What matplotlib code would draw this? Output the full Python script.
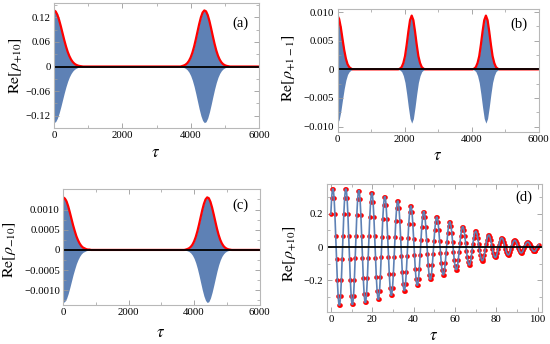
import numpy as np
import matplotlib
matplotlib.use("Agg")
import matplotlib.pyplot as plt
from matplotlib.ticker import MultipleLocator

plt.rcParams['font.family'] = ['Liberation Serif', 'DejaVu Serif']
plt.rcParams['mathtext.fontset'] = 'stix'

# ---------------- data ----------------
# (a) envelope of Re[rho_{+10}]
a_tau = [0, 50, 100, 150, 200, 250, 300, 350, 400, 450, 500, 550, 600, 650, 700, 750, 800, 850,
         3700, 3750, 3800, 3850, 3900, 3950, 4000, 4050, 4100, 4150, 4200, 4250, 4300, 4350, 4400,
         4450, 4500, 4550, 4600, 4650, 4700, 4750, 4800, 4850, 4900, 4950, 5000, 5050, 5100, 5150, 6000]
a_env = [0.137, 0.1342, 0.1261, 0.1136, 0.0982, 0.0814, 0.0647, 0.0494, 0.0361, 0.0254, 0.0171,
         0.0110, 0.0068, 0.0041, 0.0023, 0.0013, 0.0007, 0.0,
         0.0, 0.0012, 0.0025, 0.0046, 0.0082, 0.0139, 0.0222, 0.0337, 0.0484, 0.0660, 0.0850,
         0.1039, 0.1202, 0.1318, 0.1369, 0.1347, 0.1255, 0.1108, 0.0927, 0.0735, 0.0552, 0.0392,
         0.0264, 0.0169, 0.0102, 0.0058, 0.0032, 0.0016, 0.0008, 0.0, 0.0]

# (b) envelope of Re[rho_{+1-1}]
b_tau = [0, 50, 100, 150, 200, 250, 300, 350, 400, 450,
         1815, 1865, 1915, 1965, 2015, 2065, 2115, 2165, 2215, 2265, 2315, 2365, 2415, 2465, 2515, 2565, 2615,
         4030, 4080, 4130, 4180, 4230, 4280, 4330, 4380, 4430, 4480, 4530, 4580, 4630, 4680, 4730, 4780, 4830,
         6000]
b_env = [0.0094, 0.0088, 0.0073, 0.0053, 0.0034, 0.0019, 0.0009, 0.0004, 0.00016, 0.0,
         0.0, 0.00013, 0.0004, 0.0011, 0.0023, 0.0043, 0.0066, 0.0086, 0.0094, 0.0086, 0.0066, 0.0043,
         0.0023, 0.0011, 0.0004, 0.00013, 0.0,
         0.0, 0.00013, 0.0004, 0.0011, 0.0023, 0.0043, 0.0066, 0.0086, 0.0094, 0.0086, 0.0066, 0.0043,
         0.0023, 0.0011, 0.0004, 0.00013, 0.0,
         0.0]

# (c) envelope of Re[rho_{-10}]
c_tau = a_tau
c_env = [0.0013, 0.00127, 0.0012, 0.00108, 0.00093, 0.00077, 0.00061, 0.00047, 0.00034, 0.00024,
         0.00016, 0.00010, 0.00006, 0.00004, 0.00002, 0.00001, 0.00001, 0.0,
         0.0, 0.000011, 0.000024, 0.000044, 0.000078, 0.000132, 0.000211, 0.00032, 0.00046, 0.000626,
         0.000807, 0.000986, 0.00114, 0.00125, 0.0013, 0.00128, 0.00119, 0.00105, 0.00088, 0.0007,
         0.000524, 0.000372, 0.00025, 0.00016, 0.000097, 0.000055, 0.00003, 0.000015, 0.000008, 0.0, 0.0]

# (d) sampled Re[rho_{+10}] for short times
d_step = 0.3927
d_val = [
    0.197, 0.295, 0.348, 0.348, 0.295, 0.197, 0.069, -0.069, -0.197, -0.295, -0.348, -0.348, -0.295, -0.197, -0.069, 0.069,
    0.197, 0.294, 0.347, 0.347, 0.294, 0.197, 0.069, -0.069, -0.195, -0.292, -0.344, -0.344, -0.292, -0.195, -0.068, 0.068,
    0.192, 0.287, 0.338, 0.338, 0.287, 0.192, 0.067, -0.067, -0.188, -0.281, -0.332, -0.332, -0.281, -0.188, -0.066, 0.066,
    0.183, 0.273, 0.323, 0.323, 0.273, 0.183, 0.064, -0.064, -0.177, -0.265, -0.313, -0.313, -0.265, -0.177, -0.062, 0.062,
    0.171, 0.255, 0.301, 0.301, 0.255, 0.171, 0.060, -0.060, -0.164, -0.245, -0.289, -0.289, -0.245, -0.164, -0.058, 0.058,
    0.156, 0.233, 0.275, 0.275, 0.233, 0.156, 0.055, -0.055, -0.148, -0.221, -0.261, -0.261, -0.221, -0.148, -0.052, 0.052,
    0.139, 0.208, 0.245, 0.245, 0.208, 0.139, 0.049, -0.049, -0.130, -0.194, -0.229, -0.229, -0.194, -0.130, -0.045, 0.045,
    0.120, 0.179, 0.212, 0.212, 0.179, 0.120, 0.042, -0.042, -0.110, -0.165, -0.194, -0.194, -0.165, -0.110, -0.039, 0.039,
    0.101, 0.151, 0.179, 0.179, 0.151, 0.101, 0.035, -0.035, -0.094, -0.140, -0.166, -0.166, -0.140, -0.094, -0.033, 0.033,
    0.085, 0.127, 0.150, 0.150, 0.127, 0.085, 0.030, -0.030, -0.077, -0.115, -0.135, -0.135, -0.115, -0.077, -0.027, 0.027,
    0.068, 0.102, 0.121, 0.121, 0.102, 0.068, 0.024, -0.024, -0.061, -0.091, -0.107, -0.107, -0.091, -0.061, -0.021, 0.021,
    0.053, 0.080, 0.094, 0.094, 0.080, 0.053, 0.019, -0.019, -0.046, -0.069, -0.081, -0.081, -0.069, -0.046, -0.016, 0.016,
    0.040, 0.060, 0.071, 0.071, 0.060, 0.040, 0.014, -0.014, -0.035, -0.052, -0.062, -0.062, -0.052, -0.035, -0.012, 0.012,
    0.031, 0.046, 0.054, 0.054, 0.046, 0.031, 0.011, -0.011, -0.027, -0.040, -0.047, -0.047, -0.040, -0.027, -0.009, 0.009,
    0.023, 0.034, 0.040, 0.040, 0.034, 0.023, 0.008, -0.008, -0.020, -0.030, -0.035, -0.035, -0.030, -0.020, -0.007, 0.007,
    0.017, 0.025, 0.029, 0.029, 0.025, 0.017, 0.006, -0.006, -0.014, -0.022, -0.026, -0.026, -0.022, -0.014, -0.005, 0.005,
    0.013,
]
d_tau = np.arange(len(d_val)) * d_step

xticks_long = [0, 2000, 4000, 6000]
xticks_d = [0, 20, 40, 60, 80, 100]
yticks_a = [-0.12, -0.06, 0, 0.06, 0.12]
ylabels_a = ['\u22120.12', '\u22120.06', '0', '0.06', '0.12']
yticks_b = [-0.010, -0.005, 0, 0.005, 0.010]
ylabels_b = ['\u22120.010', '\u22120.005', '0', '0.005', '0.010']
yticks_c = [-0.0010, -0.0005, 0, 0.0005, 0.0010]
ylabels_c = ['\u22120.0010', '\u22120.0005', '0', '0.0005', '0.0010']
yticks_d = [-0.2, 0, 0.2]
ylabels_d = ['\u22120.2', '0', '0.2']

BLUE = '#5E81B5'
RED = '#FF0000'
TICK_COL = '#9a9a9a'
FRAME_COL = '#b8b8b8'

fig = plt.figure(figsize=(5.5, 3.44), dpi=100)
W, H = 550.0, 344.0


def make_ax(left, top, right, bottom):
    return fig.add_axes([left / W, 1 - bottom / H, (right - left) / W, (bottom - top) / H])


def style(ax, xt, yt, ylab, xminor, yminor):
    ax.set_xticks(xt)
    ax.set_xticklabels([str(v) for v in xt])
    ax.set_yticks(yt)
    ax.set_yticklabels(ylab)
    ax.xaxis.set_minor_locator(MultipleLocator(xminor))
    ax.yaxis.set_minor_locator(MultipleLocator(yminor))
    ax.tick_params(which='both', direction='in', top=True, right=True, color=TICK_COL,
                   labelsize=7.8, pad=2.5)
    ax.tick_params(which='major', length=3.5, width=0.6)
    ax.tick_params(which='minor', length=2, width=0.5)
    for s in ax.spines.values():
        s.set_color(FRAME_COL)
        s.set_linewidth(0.8)


def envelope_panel(ax, tau, env, ylim):
    tau = np.asarray(tau)
    env = np.asarray(env)
    ax.fill_between(tau, -env, env, color=BLUE, lw=0)
    ax.plot(tau, env, color=RED, lw=1.6, solid_capstyle='round')
    ax.axhline(0, color='black', lw=1.3)
    ax.set_xlim(0, 6000)
    ax.set_ylim(*ylim)


# (a)
ax_a = make_ax(54, 3, 259, 128)
envelope_panel(ax_a, a_tau, a_env, (-0.15, 0.155))
style(ax_a, xticks_long, yticks_a, ylabels_a, 1000, 0.03)

# (b)
ax_b = make_ax(337.5, 9.3, 538.5, 131.7)
envelope_panel(ax_b, b_tau, b_env, (-0.0109, 0.0105))
style(ax_b, xticks_long, yticks_b, ylabels_b, 1000, 0.0025)

# (c)
ax_c = make_ax(63.3, 189.3, 259.5, 304.5)
envelope_panel(ax_c, c_tau, c_env, (-0.00135, 0.0015))
style(ax_c, xticks_long, yticks_c, ylabels_c, 1000, 0.00025)

# (d)
ax_d = make_ax(326.7, 183.7, 541.7, 312)
ax_d.plot(d_tau, d_val, 'o', color=RED, ms=3.3, mew=0)
ax_d.plot(d_tau, d_val, color=BLUE, lw=1.2)
ax_d.axhline(0, color='black', lw=1.3)
ax_d.set_xlim(-2, 102)
ax_d.set_ylim(-0.39, 0.38)
style(ax_d, xticks_d, yticks_d, ylabels_d, 10, 0.1)

# labels
lab_kw = dict(fontsize=11.5, ha='center', va='center', rotation=90)
fig.text(16 / W, 1 - 66 / H, r'$\mathrm{Re}[\rho_{+10}]$', **lab_kw)
fig.text(289 / W, 1 - 68 / H, r'$\mathrm{Re}[\rho_{+1-1}]$', **lab_kw)
fig.text(10 / W, 1 - 250 / H, r'$\mathrm{Re}[\rho_{-10}]$', **lab_kw)
fig.text(290 / W, 1 - 254 / H, r'$\mathrm{Re}[\rho_{+10}]$', **lab_kw)

tau_kw = dict(fontsize=12, ha='center', va='center')
fig.text(156 / W, 1 - 153 / H, r'$\tau$', **tau_kw)
fig.text(438 / W, 1 - 156 / H, r'$\tau$', **tau_kw)
fig.text(161 / W, 1 - 333 / H, r'$\tau$', **tau_kw)
fig.text(434 / W, 1 - 336 / H, r'$\tau$', **tau_kw)

pl_kw = dict(fontsize=10.5, ha='center', va='center')
fig.text(240 / W, 1 - 23 / H, '(a)', **pl_kw)
fig.text(519 / W, 1 - 24 / H, '(b)', **pl_kw)
fig.text(240 / W, 1 - 205 / H, '(c)', **pl_kw)
fig.text(524 / W, 1 - 197 / H, '(d)', **pl_kw)

fig.savefig('out.png', dpi=100)
